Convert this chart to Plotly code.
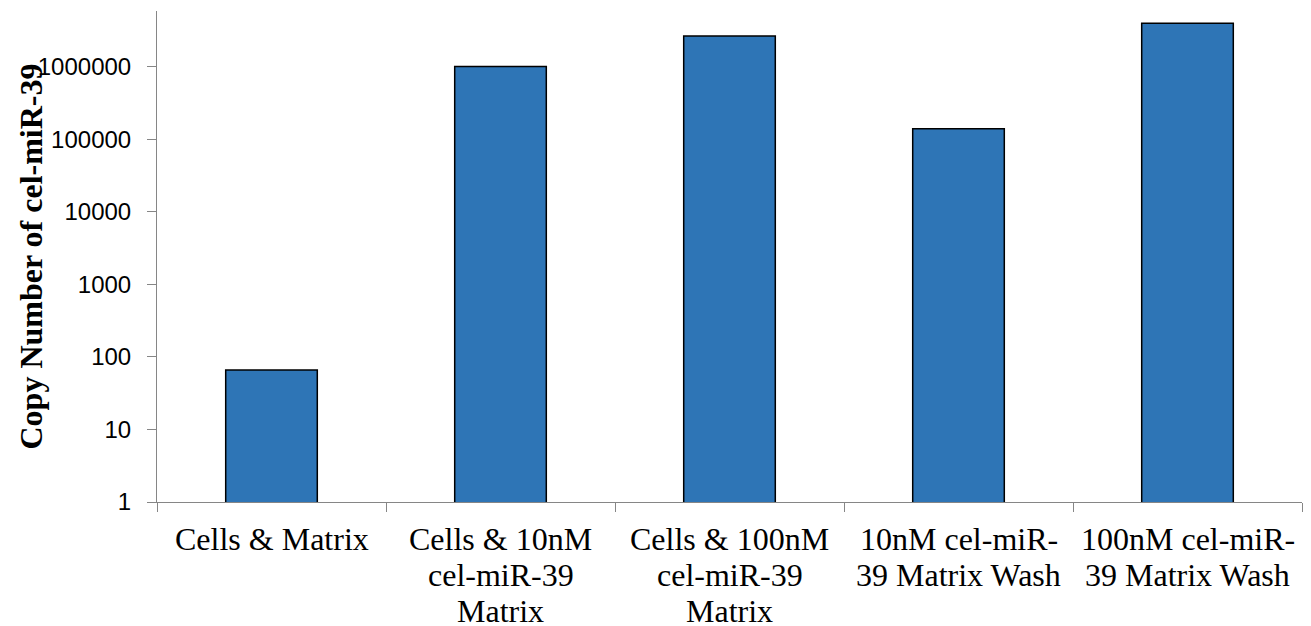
import plotly.graph_objects as go

categories = [
    "Cells & Matrix",
    "Cells & 10nM<br>cel-miR-39<br>Matrix",
    "Cells & 100nM<br>cel-miR-39<br>Matrix",
    "10nM cel-miR-<br>39 Matrix Wash",
    "100nM cel-miR-<br>39 Matrix Wash",
]
copy_numbers = [66, 1010000, 2670000, 140000, 4000000]
y_tick_vals = [1, 10, 100, 1000, 10000, 100000, 1000000]
y_tick_text = ["1", "10", "100", "1000", "10000", "100000", "1000000"]
y_title = "Copy Number of cel-miR-39"

W, H = 1311, 626
L, R, T, B = 157, 9, 11, 124
plot_w = W - L - R
SERIF = "'Times New Roman', 'Liberation Serif', Times, serif"
SANS = "Arial, 'Liberation Sans', Helvetica, sans-serif"

fig = go.Figure()
fig.add_trace(go.Bar(
    x=list(range(len(categories))),
    y=copy_numbers,
    marker=dict(color="#2E75B6", line=dict(color="#000000", width=1.5)),
    width=0.4,
))

annotations = []
line_step = 36
for i, cat in enumerate(categories):
    for j, line in enumerate(cat.split("<br>")):
        annotations.append(dict(
            x=i, xref="x", y=0, yref="paper",
            text=line, showarrow=False,
            xanchor="center", yanchor="middle",
            yshift=-(37 + j * line_step),
            font=dict(family=SERIF, size=32, color="#000000"),
        ))

annotations.append(dict(
    x=(30 - L) / plot_w, xref="paper", y=0.5, yref="paper",
    text="<b>" + y_title + "</b>", showarrow=False, textangle=-90,
    xanchor="center", yanchor="middle",
    font=dict(family=SERIF, size=32, color="#000000"),
))

fig.update_layout(
    width=W, height=H,
    margin=dict(l=L, r=R, t=T, b=B),
    paper_bgcolor="white", plot_bgcolor="white",
    showlegend=False,
    annotations=annotations,
    xaxis=dict(
        range=[-0.5, len(categories) - 0.5],
        tickvals=[k + 0.5 for k in range(-1, len(categories))],
        ticktext=[""] * (len(categories) + 1),
        ticks="outside", ticklen=9, tickcolor="#868686", tickwidth=1,
        showline=True, linecolor="#868686", linewidth=1,
        showgrid=False, zeroline=False,
    ),
    yaxis=dict(
        type="log", range=[0, 6.771],
        tickvals=y_tick_vals, ticktext=y_tick_text,
        ticks="outside", ticklen=9, tickcolor="#868686", tickwidth=1,
        showline=True, linecolor="#868686", linewidth=1,
        showgrid=False, zeroline=False,
        tickfont=dict(family=SANS, size=24, color="#000000"),
        ticklabelstandoff=11,
    ),
)

fig.write_html("out.html")
